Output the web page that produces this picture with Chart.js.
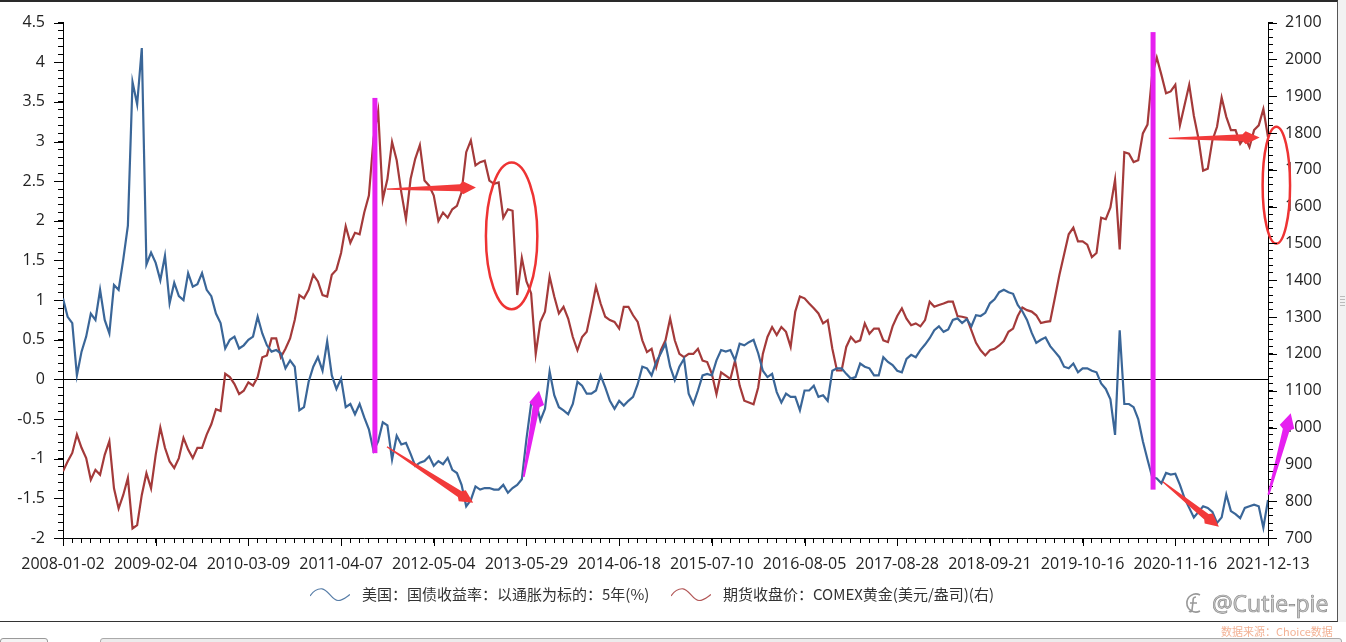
<!DOCTYPE html>
<html lang="zh-CN">
<head>
<meta charset="utf-8">
<title>TIPS 5Y vs COMEX Gold</title>
<script src="https://cdn.jsdelivr.net/npm/chart.js@4.4.1/dist/chart.umd.min.js"></script>
<style>
  html, body { margin: 0; padding: 0; background: #fff; }
  body { width: 1346px; height: 642px; position: relative; overflow: hidden; font-family: "Noto Sans CJK SC", "Open Sans", sans-serif; }
  #wrap { position: absolute; left: 0; top: 0; width: 1337px; height: 575px; }
  #frame { position: absolute; left: 0; top: 0; width: 1338px; height: 622px; box-sizing: border-box;
           border-top: 2px solid #2a2a2a; border-right: 1px solid #555; border-bottom: 1px solid #333; pointer-events: none; }
  #sidebar { position: absolute; left: 1338px; top: 0; width: 8px; height: 622px; background: #f2f2f2; }
  #grip { position: absolute; left: 1340px; top: 296px; width: 5px; height: 10px;
          background: repeating-linear-gradient(#bbb 0 1px, transparent 1px 3px); }
  #bottombar { position: absolute; left: 0; top: 622px; width: 1346px; height: 20px; background: #fff; }
  #tab1 { position: absolute; left: 0; top: 638px; width: 46px; height: 10px; border: 1px solid #999; border-radius: 3px; background: #f4f4f4; }
  #tab2 { position: absolute; left: 100px; top: 638px; width: 1240px; height: 10px; border: 1px solid #aaa; border-radius: 3px; background: #ececec; }
  .lg { position: absolute; top: 584px; height: 20px; display: flex; align-items: center;
        font-size: 15px; color: #333; white-space: nowrap; }
  .lg svg { display: block; }
  .lg span { margin-left: 12px; line-height: 20px; }
  #wm { position: absolute; left: 1183px; top: 588px; height: 30px; display: flex; align-items: center;
        font-family: "Open Sans", sans-serif; font-size: 23px; color: rgba(200,200,200,0.95);
        -webkit-text-stroke: 0.7px #8a8a8a; white-space: nowrap; }
  #wm svg { margin-right: 7px; }
  #src { position: absolute; left: 1221px; top: 623px; font-size: 11px; color: #f3b295; white-space: nowrap; }
</style>
</head>
<body>
<div id="wrap"><canvas id="c"></canvas></div>
<div id="frame"></div>
<div id="sidebar"></div><div id="grip"></div>
<div id="bottombar"></div><div id="tab1"></div><div id="tab2"></div>
<div id="legend"></div>
<div id="wm"><svg width="22" height="24" viewBox="0 0 22 24"><path d="M17 4 A9 9 0 1 0 17 20" fill="none" stroke="#999" stroke-width="1.6"/><path d="M13 6 C10 6 10 8 10 11 L9 19 C9 21 7 21 6 20 M7 12 L14 12" fill="none" stroke="#999" stroke-width="1.6"/></svg>@Cutie-pie</div>
<div id="src">数据来源：Choice数据</div>

<script>
// ---------------- data ----------------
const tickLabels = ['2008-01-02','2009-02-04','2010-03-09','2011-04-07','2012-05-04','2013-05-29','2014-06-18',
                    '2015-07-10','2016-08-05','2017-08-28','2018-09-21','2019-10-16','2020-11-16','2021-12-13'];
const POINTS_PER_LABEL = 20;   // samples between two consecutive tick labels

const seriesNames = ['美国：国债收益率：以通胀为标的：5年(%)', '期货收盘价：COMEX黄金(美元/盎司)(右)'];

// 5-year TIPS yield (%), left axis
const tips = [
  1.02, 0.79, 0.71, 0.05, 0.35, 0.54, 0.83, 0.75, 1.13, 0.75,
  0.58, 1.19, 1.13, 1.51, 1.94, 3.75, 3.47, 4.18, 1.45, 1.6,
  1.47, 1.25, 1.56, 0.96, 1.22, 1.05, 1.0, 1.34, 1.17, 1.2,
  1.34, 1.13, 1.05, 0.83, 0.71, 0.39, 0.5, 0.54, 0.39, 0.43,
  0.5, 0.54, 0.79, 0.58,
  0.43, 0.35, 0.37, 0.33, 0.14, 0.24, 0.16, -0.39, -0.35, -0.03,
  0.16, 0.28, 0.11, 0.48, 0.05, -0.12, 0.01, -0.35, -0.31, -0.44,
  -0.31, -0.48, -0.63, -0.9, -0.78, -0.54, -0.58, -1.01, -0.71, -0.82,
  -0.8, -0.94, -1.09, -1.05, -1.03, -0.97, -1.09, -1.03, -1.07, -0.99,
  -1.14, -1.18, -1.33, -1.6,
  -1.52, -1.35, -1.39, -1.37, -1.37, -1.39, -1.39, -1.33, -1.43, -1.37,
  -1.33, -1.26, -0.75, -0.31, -0.27, -0.52, -0.37, 0.1, -0.2, -0.35,
  -0.39, -0.44, -0.31, -0.03, -0.08, -0.18, -0.18, -0.14, 0.05, -0.1,
  -0.27, -0.37, -0.27, -0.33, -0.27, -0.22, -0.06, 0.16, 0.14, 0.05,
  0.22, 0.33, 0.45,
  0.16, -0.01, 0.16, 0.26, -0.18, -0.31, -0.14, 0.05, 0.07, 0.05,
  0.24, 0.37, 0.35, 0.37, 0.24, 0.45, 0.43, 0.47, 0.5, 0.33,
  0.11, 0.03, 0.07, -0.16, -0.29, -0.18, -0.22, -0.22, -0.39, -0.14,
  -0.14, -0.08, -0.22, -0.2, -0.27, 0.11, 0.14, 0.14, 0.07, 0.01,
  0.03, 0.2, 0.16, 0.14,
  0.05, 0.05, 0.28, 0.22, 0.18, 0.11, 0.09, 0.26, 0.31, 0.28,
  0.37, 0.44, 0.52, 0.62, 0.67, 0.6, 0.63, 0.75, 0.77, 0.71,
  0.76, 0.67, 0.81, 0.8, 0.84, 0.96, 1.01, 1.1, 1.13, 1.1,
  1.08, 0.94, 0.86, 0.75, 0.59, 0.46, 0.5, 0.53, 0.42, 0.35,
  0.28, 0.16, 0.14,
  0.2, 0.09, 0.14, 0.14, 0.11, 0.09, -0.05, -0.12, -0.25, -0.7,
  0.62, -0.31, -0.31, -0.35, -0.5, -0.78, -1.01, -1.23, -1.25, -1.31,
  -1.18, -1.2, -1.19, -1.33, -1.5, -1.62, -1.74, -1.67, -1.6, -1.62,
  -1.67, -1.81, -1.74, -1.45, -1.66, -1.7, -1.75, -1.62, -1.6, -1.58,
  -1.6, -1.87, -1.52
];

// COMEX gold futures close (USD/oz), right axis
const gold = [
  881, 908, 931, 981, 945, 917, 858, 885, 872, 926,
  963, 835, 780, 817, 863, 726, 735, 817, 876, 835,
  926, 1000, 945, 908, 890, 917, 972, 940, 917, 945,
  945, 981, 1009, 1050, 1045, 1146, 1137, 1118, 1091, 1100,
  1123, 1114, 1137, 1191,
  1196, 1242, 1242, 1191, 1214, 1242, 1292, 1360, 1351, 1374,
  1415, 1397, 1360, 1356, 1415, 1429, 1474, 1547, 1502, 1529,
  1525, 1584, 1630, 1785, 1860, 1620, 1675, 1776, 1726, 1639,
  1566, 1675, 1730, 1767, 1671, 1657, 1630, 1561, 1584, 1570,
  1593, 1602, 1639, 1748,
  1780, 1712, 1721, 1725, 1671, 1662, 1666, 1570, 1593, 1589,
  1360, 1461, 1397, 1365, 1200, 1287, 1315, 1410, 1356, 1310,
  1328, 1296, 1246, 1210, 1246, 1260, 1319, 1383, 1337, 1301,
  1292, 1287, 1269, 1328, 1328, 1305, 1287, 1237, 1205, 1214,
  1164, 1210, 1237,
  1296, 1237, 1200, 1191, 1200, 1200, 1214, 1182, 1178, 1146,
  1091, 1150, 1141, 1132, 1182, 1114, 1073, 1068, 1063, 1109,
  1200, 1246, 1273, 1251, 1273, 1260, 1219, 1315, 1356, 1351,
  1337, 1324, 1310, 1283, 1292, 1214, 1155, 1155, 1219, 1246,
  1232, 1237, 1283, 1255,
  1269, 1269, 1237, 1232, 1275, 1303, 1324, 1296, 1278, 1283,
  1275, 1292, 1342, 1328, 1333, 1337, 1342, 1342, 1303, 1301,
  1298, 1264, 1230, 1210, 1196, 1210, 1214, 1223, 1235, 1260,
  1269, 1303, 1326, 1319, 1315, 1305, 1284, 1287, 1289, 1351,
  1415, 1470, 1525,
  1543, 1506, 1506, 1497, 1463, 1474, 1570, 1566, 1598, 1673,
  1484, 1748, 1744, 1721, 1726, 1799, 1823, 1958, 2005, 1958,
  1908, 1913, 1931, 1821, 1876, 1931, 1847, 1785, 1698, 1703,
  1780, 1817, 1896, 1844, 1808, 1808, 1771, 1789, 1762, 1808,
  1821, 1865, 1789
];

// ---------------- styles ----------------
const BLUE = '#3a6698';
const RED = '#a43a3a';
const MAGENTA = '#e620f0';
const ARROW_RED = '#f23a3a';

// Hand-drawn annotations, positioned in data units (x: sample index, y: left-axis value)
const marks = [
  { type: 'bar', x: 67.3, y1: 3.55, y2: -0.93, color: MAGENTA },
  { type: 'bar', x: 235.2, y1: 4.38, y2: -1.39, color: MAGENTA },
  { type: 'arrow', x1: 69.9, y1: 2.40, x2: 89.1, y2: 2.42, color: ARROW_RED, w0: 0.6, w1: 3.5, L: 16, h: 6.5 },
  { type: 'arrow', x1: 69.9, y1: -0.85, x2: 88.5, y2: -1.556, color: ARROW_RED, w0: 0.6, w1: 3.5, L: 16, h: 6.5 },
  { type: 'arrow', x1: 99.4, y1: -1.23, x2: 102.7, y2: -0.144, color: MAGENTA, w0: 1.0, w1: 3.5, L: 16, h: 7.5 },
  { type: 'arrow', x1: 238.6, y1: 3.04, x2: 258.2, y2: 3.05, color: ARROW_RED, w0: 0.6, w1: 3.5, L: 17, h: 6.5 },
  { type: 'arrow', x1: 237.3, y1: -1.29, x2: 249.4, y2: -1.857, color: ARROW_RED, w0: 0.6, w1: 3.5, L: 16, h: 6.5 },
  { type: 'arrow', x1: 260.1, y1: -1.455, x2: 264.9, y2: -0.427, color: MAGENTA, w0: 1.0, w1: 3.5, L: 17, h: 7.5 },
  { type: 'ellipse', cx: 96.8, cy: 1.81, rx: 5.55, ry: 0.925, color: '#ee3333' },
  { type: 'ellipse', cx: 261.8, cy: 2.45, rx: 2.96, ry: 0.737, color: '#ee3333' }
];

// ---------------- plugins ----------------
const isHalf = v => Math.abs(v * 2 - Math.round(v * 2)) < 1e-6;

const majorTicks = {
  id: 'majorTicks',
  afterDraw(chart) {
    const { ctx, chartArea: a } = chart;
    const { x, y, y1 } = chart.scales;
    ctx.save();
    ctx.strokeStyle = '#000';
    ctx.lineWidth = 1;
    ctx.beginPath();
    x.ticks.forEach(t => {
      if (Math.round(t.value) % POINTS_PER_LABEL === 0) {
        const p = Math.round(x.getPixelForValue(t.value)) + 0.5;
        ctx.moveTo(p, a.bottom); ctx.lineTo(p, a.bottom + 8);
      }
    });
    y.ticks.forEach(t => {
      if (isHalf(t.value)) {
        const p = Math.round(y.getPixelForValue(t.value)) + 0.5;
        ctx.moveTo(a.left - 9, p); ctx.lineTo(a.left, p);
      }
    });
    y1.ticks.forEach(t => {
      if (Math.round(t.value) % 100 === 0) {
        const p = Math.round(y1.getPixelForValue(t.value)) + 0.5;
        ctx.moveTo(a.right, p); ctx.lineTo(a.right + 9, p);
      }
    });
    ctx.stroke();
    ctx.restore();
  }
};

const annotate = {
  id: 'annotate',
  afterDatasetsDraw(chart) {
    const { ctx } = chart;
    const sx = chart.scales.x, sy = chart.scales.y;
    const P = (xv, yv) => [sx.getPixelForValue(xv), sy.getPixelForValue(yv)];
    ctx.save();
    marks.forEach(m => {
      if (m.type === 'bar') {
        const [px, top] = P(m.x, m.y1);
        const [, bot] = P(m.x, m.y2);
        ctx.fillStyle = m.color;
        ctx.fillRect(px - 2.5, top, 5, bot - top);
      } else if (m.type === 'arrow') {
        const [x1, y1] = P(m.x1, m.y1);
        const [x2, y2] = P(m.x2, m.y2);
        const len = Math.hypot(x2 - x1, y2 - y1);
        const ux = (x2 - x1) / len, uy = (y2 - y1) / len;
        const nx = -uy, ny = ux;
        const bx = x2 - ux * m.L, by = y2 - uy * m.L;
        ctx.fillStyle = m.color;
        ctx.beginPath();
        ctx.moveTo(x1 + nx * m.w0, y1 + ny * m.w0);
        ctx.lineTo(bx + nx * m.w1, by + ny * m.w1);
        ctx.lineTo(bx + nx * m.h + ux * 3, by + ny * m.h + uy * 3);
        ctx.lineTo(x2, y2);
        ctx.lineTo(bx - nx * m.h + ux * 3, by - ny * m.h + uy * 3);
        ctx.lineTo(bx - nx * m.w1, by - ny * m.w1);
        ctx.lineTo(x1 - nx * m.w0, y1 - ny * m.w0);
        ctx.closePath();
        ctx.fill();
      } else if (m.type === 'ellipse') {
        const [cx, cy] = P(m.cx, m.cy);
        const rx = Math.abs(sx.getPixelForValue(m.cx + m.rx) - cx);
        const ry = Math.abs(sy.getPixelForValue(m.cy + m.ry) - cy);
        ctx.strokeStyle = m.color;
        ctx.lineWidth = 2.5;
        ctx.beginPath();
        ctx.ellipse(cx, cy, rx, ry, 0, 0, Math.PI * 2);
        ctx.stroke();
      }
    });
    ctx.restore();
  }
};

// ---------------- legend (HTML) ----------------
const colors = [BLUE, RED];
const legendLeft = [310, 671];
const legendEl = document.getElementById('legend');
seriesNames.forEach((name, i) => {
  const d = document.createElement('div');
  d.className = 'lg';
  d.style.left = legendLeft[i] + 'px';
  d.innerHTML = '<svg width="40" height="20" viewBox="0 0 40 20"><path d="M0,12 C4,6 8,4.5 12,4.8 C18,5.3 22,16.5 28,16.5 C33,16.5 37,12.5 40,10.5" fill="none" stroke="' +
    colors[i] + '" stroke-width="1.2" opacity="0.85"/></svg><span></span>';
  d.querySelector('span').textContent = name;
  legendEl.appendChild(d);
});

// ---------------- chart ----------------
const tickFont = { family: 'Open Sans', size: 16 };
new Chart(document.getElementById('c'), {
  type: 'line',
  data: {
    datasets: [
      { label: seriesNames[0], data: tips.map((v, i) => ({ x: i, y: v })), yAxisID: 'y',
        borderColor: BLUE, borderWidth: 2.2, pointRadius: 0, tension: 0, fill: false },
      { label: seriesNames[1], data: gold.map((v, i) => ({ x: i, y: v })), yAxisID: 'y1',
        borderColor: RED, borderWidth: 2.2, pointRadius: 0, tension: 0, fill: false }
    ]
  },
  options: {
    responsive: true,
    maintainAspectRatio: false,
    animation: false,
    events: [],
    layout: { padding: { top: 20, left: 0, right: 0, bottom: 0 } },
    plugins: { legend: { display: false }, tooltip: { enabled: false } },
    scales: {
      x: {
        type: 'linear',
        min: 0,
        max: (tickLabels.length - 1) * POINTS_PER_LABEL,
        afterFit: s => { s.height = 37; },
        ticks: {
          stepSize: 2, autoSkip: false, maxRotation: 0, minRotation: 0, padding: 12,
          color: '#222', font: tickFont,
          callback: v => (Math.round(v) % POINTS_PER_LABEL === 0) ? tickLabels[Math.round(v) / POINTS_PER_LABEL] : ''
        },
        grid: { drawOnChartArea: false, drawTicks: true, tickLength: 5, tickColor: '#000' },
        border: { display: true, color: '#000', width: 1 }
      },
      y: {
        position: 'left',
        min: -2, max: 4.5,
        afterFit: s => { s.width = 63; },
        ticks: {
          stepSize: 0.1, autoSkip: false, padding: 13, color: '#222', font: tickFont,
          callback: v => { const r = Math.round(v * 10) / 10; return isHalf(r) ? String(r === 0 ? 0 : r) : ''; }
        },
        grid: {
          drawOnChartArea: true, tickLength: 5, tickColor: '#000',
          color: c => (c.tick && Math.abs(c.tick.value) < 1e-9) ? '#000' : 'rgba(0,0,0,0)'
        },
        border: { display: true, color: '#000', width: 1 }
      },
      y1: {
        position: 'right',
        min: 700, max: 2100,
        afterFit: s => { s.width = 69; },
        ticks: {
          stepSize: 20, autoSkip: false, padding: 12, color: '#222', font: tickFont,
          callback: v => (Math.round(v) % 100 === 0) ? String(Math.round(v)) : ''
        },
        grid: { drawOnChartArea: false, tickLength: 5, tickColor: '#000' },
        border: { display: true, color: '#000', width: 1 }
      }
    }
  },
  plugins: [majorTicks, annotate]
});
</script>
</body>
</html>
